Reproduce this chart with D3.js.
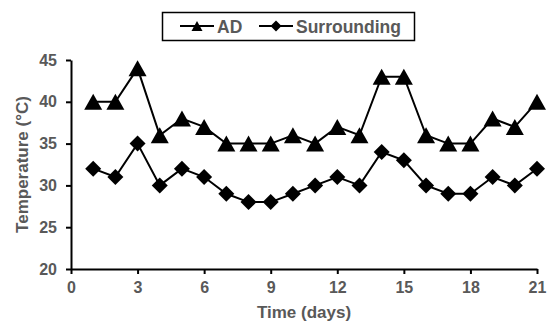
<!DOCTYPE html>
<html>
<head>
<meta charset="utf-8">
<script src="https://cdn.jsdelivr.net/npm/d3@7"></script>
<style>
  body { margin: 0; background: #fff; }
  svg { display: block; font-family: Arial, "Liberation Sans", sans-serif; }
</style>
</head>
<body>
<figure id="chart" style="margin:0"></figure>
<script>
const days = d3.range(1, 22);
const adTemp = [40, 40, 44, 36, 38, 37, 35, 35, 35, 36, 35, 37, 36, 43, 43, 36, 35, 35, 38, 37, 40];
const surroundingTemp = [32, 31, 35, 30, 32, 31, 29, 28, 28, 29, 30, 31, 30, 34, 33, 30, 29, 29, 31, 30, 32];
const xTicks = [0, 3, 6, 9, 12, 15, 18, 21];
const yTicks = [20, 25, 30, 35, 40, 45];

const width = 548, height = 322;
const margin = { left: 71, right: 11, top: 60, bottom: 53 };
const textColor = "#595959";

const svg = d3.select("#chart").append("svg")
  .attr("width", width)
  .attr("height", height);

// scales
const x = d3.scaleLinear().domain([0, 21]).range([margin.left, width - margin.right]);
const y = d3.scaleLinear().domain([20, 45]).range([height - margin.bottom, margin.top]);

// axes
const xAxis = svg.append("g")
  .attr("transform", "translate(0," + y(20) + ")")
  .call(d3.axisBottom(x).tickValues(xTicks).tickSize(5).tickPadding(8).tickSizeOuter(0));
const yAxis = svg.append("g")
  .attr("transform", "translate(" + x(0) + ",0)")
  .call(d3.axisLeft(y).tickValues(yTicks).tickSize(5).tickPadding(9).tickSizeOuter(0));

[xAxis, yAxis].forEach(g => {
  g.select(".domain").attr("stroke", "#000").attr("stroke-width", 2);
  g.selectAll(".tick line").attr("stroke", "#000").attr("stroke-width", 2);
  g.selectAll(".tick text")
    .attr("fill", textColor)
    .style("font-size", "16px")
    .style("font-weight", "bold");
});

// axis titles
svg.append("text")
  .attr("x", (x(0) + x(21)) / 2)
  .attr("y", 318)
  .attr("text-anchor", "middle")
  .attr("fill", textColor)
  .style("font-size", "17px")
  .style("font-weight", "bold")
  .text("Time (days)");

svg.append("text")
  .attr("transform", "translate(28," + (y(20) + y(45)) / 2 + ") rotate(-90)")
  .attr("text-anchor", "middle")
  .attr("fill", textColor)
  .style("font-size", "17px")
  .style("font-weight", "bold")
  .text("Temperature (°C)");

// marker shapes, centred on their bounding box
const triangle = (w, h) => "M0," + (-h / 2) + "L" + (w / 2) + "," + (h / 2) + "L" + (-w / 2) + "," + (h / 2) + "Z";
const diamond = (w, h) => "M0," + (-h / 2) + "L" + (w / 2) + ",0L0," + (h / 2) + "L" + (-w / 2) + ",0Z";

const series = [
  { name: "AD", values: adTemp, shape: triangle(18, 16) },
  { name: "Surrounding", values: surroundingTemp, shape: diamond(16, 16) }
];

const line = d3.line().x((d, i) => x(days[i])).y(d => y(d));

series.forEach(s => {
  svg.append("path")
    .datum(s.values)
    .attr("d", line)
    .attr("fill", "none")
    .attr("stroke", "#000")
    .attr("stroke-width", 2);

  svg.selectAll(null)
    .data(s.values)
    .enter()
    .append("path")
    .attr("d", s.shape)
    .attr("transform", (d, i) => "translate(" + x(days[i]) + "," + y(d) + ")")
    .attr("fill", "#000");
});

// legend
const legend = svg.append("g");
legend.append("rect")
  .attr("x", 162.5).attr("y", 12.5)
  .attr("width", 252).attr("height", 28)
  .attr("fill", "#fff")
  .attr("stroke", "#000")
  .attr("stroke-width", 1.5);

const legendItems = [
  { name: "AD", x1: 180, x2: 214, tx: 217, shape: triangle(11, 10) },
  { name: "Surrounding", x1: 259, x2: 293, tx: 296, shape: diamond(11, 11) }
];
legendItems.forEach(item => {
  legend.append("line")
    .attr("x1", item.x1).attr("x2", item.x2)
    .attr("y1", 26).attr("y2", 26)
    .attr("stroke", "#000").attr("stroke-width", 2);
  legend.append("path")
    .attr("d", item.shape)
    .attr("transform", "translate(" + (item.x1 + item.x2) / 2 + ",26)")
    .attr("fill", "#000");
  legend.append("text")
    .attr("x", item.tx).attr("y", 32.5)
    .attr("fill", textColor)
    .style("font-size", "17.5px")
    .style("font-weight", "bold")
    .text(item.name);
});
</script>
</body>
</html>
